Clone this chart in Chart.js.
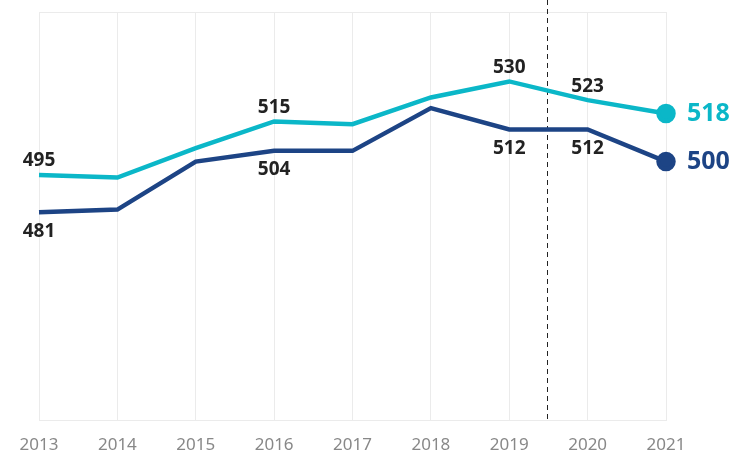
<!DOCTYPE html>
<html>
<head>
<meta charset="utf-8">
<script src="https://cdn.jsdelivr.net/npm/chart.js@4"></script>
<style>
  html, body { margin: 0; padding: 0; background: #fff; }
  #wrap { width: 738px; height: 451px; }
</style>
</head>
<body>
<div id="wrap"><canvas id="chart"></canvas></div>
<script>
// данные
const years = ["2013", "2014", "2015", "2016", "2017", "2018", "2019", "2020", "2021"];
const upperSeries = [495, 494, 505, 515, 514, 524, 530, 523, 518];
const lowerSeries = [481, 482, 500, 504, 504, 520, 512, 512, 500];
const labelledPoints = [0, 3, 6, 7];
const dividerAt = 6.48; // между 2019 и 2020

const CYAN = "#0bb7c8";
const NAVY = "#1d4485";
const FONT = "'Noto Sans', sans-serif";

// подписи значений, граница сверху и пунктир
const overlay = {
  id: "overlay",
  beforeDatasetsDraw(chart) {
    const { ctx, chartArea, scales } = chart;
    ctx.save();
    ctx.strokeStyle = "#ebebeb";
    ctx.lineWidth = 1;
    ctx.beginPath();
    ctx.moveTo(chartArea.left, chartArea.top + 0.5);
    ctx.lineTo(chartArea.right, chartArea.top + 0.5);
    ctx.stroke();

    const x = Math.round(scales.x.getPixelForValue(dividerAt)) + 0.5;
    ctx.strokeStyle = "#222";
    ctx.setLineDash([5, 4]);
    ctx.beginPath();
    ctx.moveTo(x, 0);
    ctx.lineTo(x, chartArea.bottom);
    ctx.stroke();
    ctx.restore();
  },
  afterDatasetsDraw(chart) {
    const { ctx } = chart;
    ctx.save();
    ctx.textBaseline = "middle";
    chart.data.datasets.forEach((ds, di) => {
      const meta = chart.getDatasetMeta(di);
      ctx.textAlign = "center";
      ctx.font = "bold 19px " + FONT;
      ctx.fillStyle = "#222";
      labelledPoints.forEach((i) => {
        const p = meta.data[i];
        const dy = di === 0 ? -14 : 19;
        ctx.fillText(String(ds.data[i]), p.x, p.y + dy);
      });
      const last = ds.data.length - 1;
      const p = meta.data[last];
      ctx.font = "bold 25px " + FONT;
      ctx.fillStyle = ds.borderColor;
      ctx.textAlign = "left";
      ctx.fillText(String(ds.data[last]), p.x + 21, p.y);
    });
    ctx.restore();
  }
};

new Chart(document.getElementById("chart"), {
  type: "line",
  data: {
    labels: years,
    datasets: [
      {
        data: upperSeries,
        borderColor: CYAN,
        backgroundColor: CYAN,
        borderWidth: 4.5,
        pointRadius: upperSeries.map((v, i) => (i === upperSeries.length - 1 ? 7.5 : 0)),
        tension: 0,
      },
      {
        data: lowerSeries,
        borderColor: NAVY,
        backgroundColor: NAVY,
        borderWidth: 4.5,
        pointRadius: lowerSeries.map((v, i) => (i === lowerSeries.length - 1 ? 7.5 : 0)),
        tension: 0,
      },
    ],
  },
  options: {
    responsive: true,
    maintainAspectRatio: false,
    animation: false,
    layout: { padding: { left: 39, right: 72, top: 10, bottom: -18 } },
    plugins: { legend: { display: false }, tooltip: { enabled: false } },
    scales: {
      x: {
        offset: false,
        grid: { color: "#ebebeb", lineWidth: 1, drawTicks: false },
        border: { color: "#ebebeb" },
        ticks: { color: "#888", font: { family: FONT, size: 17 }, padding: 14, maxRotation: 0 },
      },
      y: {
        display: false,
        min: 403,
        max: 556,
      },
    },
  },
  plugins: [overlay],
});
</script>
</body>
</html>
